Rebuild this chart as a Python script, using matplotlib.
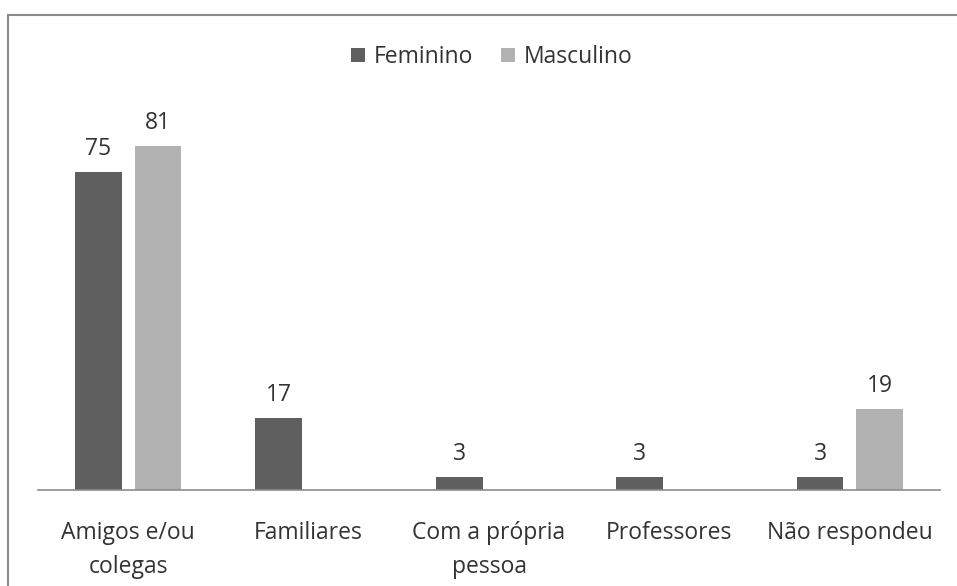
import matplotlib

matplotlib.use("Agg")
import matplotlib.pyplot as plt
from matplotlib.lines import Line2D
import numpy as np

plt.rcParams["font.family"] = ["Open Sans", "DejaVu Sans"]

categories = ["Amigos e/ou\ncolegas", "Familiares", "Com a própria\npessoa", "Professores", "Não respondeu"]
feminino = [75, 17, 3, 3, 3]
masculino = [81, 0, 0, 0, 19]
series_names = ["Feminino", "Masculino"]
colors = ["#5f5f5f", "#b2b2b2"]

W, H = 957, 586
FS = 16.5
fig = plt.figure(figsize=(W / 100, H / 100), dpi=100)
ax = fig.add_axes([38 / W, (H - 490) / H, (940 - 38) / W, (490 - 108) / H])

x = np.arange(len(categories))
width = 0.26
offset = 0.165
for vals, name, color, dx in zip([feminino, masculino], series_names, colors, [-offset, offset]):
    bars = ax.bar(x + dx, vals, width=width, color=color, label=name)
    for b, v in zip(bars, vals):
        if v > 0:
            ax.text(b.get_x() + b.get_width() / 2, v + 2.6, str(v), ha="center", va="bottom",
                    fontsize=FS, color="#333333")

ax.set_xlim(-0.5, len(categories) - 0.5)
ax.set_ylim(0, 90)
ax.set_xticks(x)
ax.set_xticklabels(categories, fontsize=FS, color="#333333", linespacing=1.6)
ax.tick_params(axis="x", length=0, pad=22)
ax.set_yticks([])
for side in ["top", "right", "left"]:
    ax.spines[side].set_visible(False)
ax.spines["bottom"].set_color("#8c8c8c")
ax.spines["bottom"].set_linewidth(1.2)

fig.legend(loc="center", bbox_to_anchor=(492 / W, 1 - 57 / H), ncols=2, frameon=False,
           fontsize=FS, handlelength=0.6, handleheight=0.6, handletextpad=0.4,
           columnspacing=1.2, labelcolor="#333333")

# outer frame (top and left edges only)
fig.add_artist(Line2D([8 / W, 1], [1 - 15 / H, 1 - 15 / H], color="#8a8a8a", linewidth=1.5,
                      transform=fig.transFigure))
fig.add_artist(Line2D([8 / W, 8 / W], [0, 1 - 15 / H], color="#8a8a8a", linewidth=1.5,
                      transform=fig.transFigure))

fig.savefig("out.png", dpi=100)
